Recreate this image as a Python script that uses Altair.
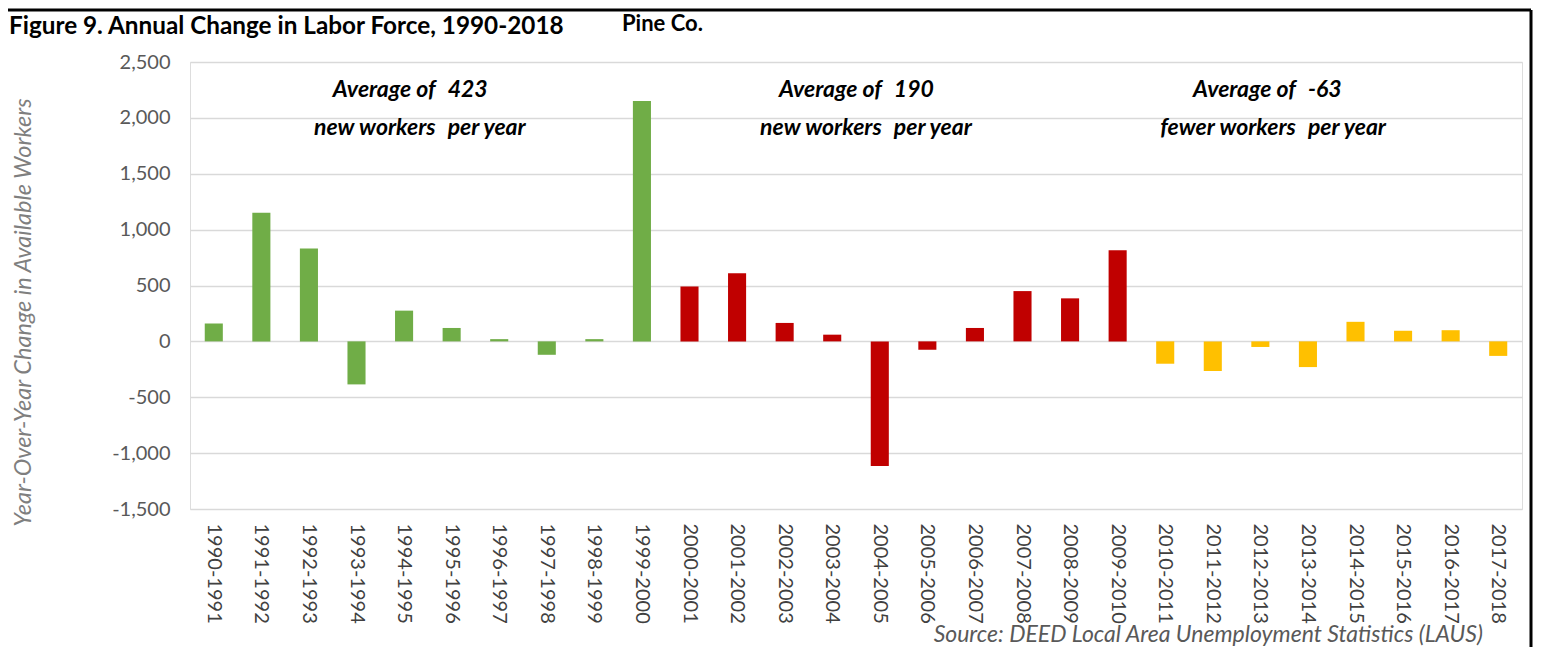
import altair as alt
import pandas as pd

cats = ["1990-1991", "1991-1992", "1992-1993", "1993-1994", "1994-1995", "1995-1996",
        "1996-1997", "1997-1998", "1998-1999", "1999-2000", "2000-2001", "2001-2002",
        "2002-2003", "2003-2004", "2004-2005", "2005-2006", "2006-2007", "2007-2008",
        "2008-2009", "2009-2010", "2010-2011", "2011-2012", "2012-2013", "2013-2014",
        "2014-2015", "2015-2016", "2016-2017", "2017-2018"]
values = [160, 1150, 830, -385, 275, 120, 20, -120, 20, 2150,
          490, 610, 165, 60, -1115, -75, 120, 450, 385, 815,
          -200, -265, -50, -230, 175, 95, 100, -130]
periods = ["1990-2000"] * 10 + ["2000-2010"] * 10 + ["2010-2018"] * 8
period_names = ["1990-2000", "2000-2010", "2010-2018"]
period_colors = ["#70AD47", "#C00000", "#FFC000"]
y_ticks = [-1500, -1000, -500, 0, 500, 1000, 1500, 2000, 2500]

ann_cats = ["1995-1996", "2004-2005", "2013-2014"]
ann_left = [["Average of", "new workers"], ["Average of", "new workers"], ["Average of", "fewer workers"]]
ann_right = [["423", "per year"], ["190", "per year"], ["-63", "per year"]]

title_text = "Figure 9. Annual Change in Labor Force, 1990-2018"
region_text = "Pine Co."
source_text = "Source: DEED Local Area Unemployment Statistics (LAUS)"
y_title = "Year-Over-Year Change in Available Workers"

W, H = 1332, 447
FONT = "Lato"

df = pd.DataFrame({"cat": cats, "value": values, "period": periods})
one = pd.DataFrame({"k": [0]})

xscale = alt.Scale(domain=cats, paddingInner=0.62, paddingOuter=0.31)

bars = alt.Chart(df).mark_bar().encode(
    x=alt.X("cat:N", sort=cats, scale=xscale,
            axis=alt.Axis(title=None, labelAngle=90, labelFontSize=20, labelColor="#404040",
                          labelFont=FONT, ticks=False, domain=False, labelPadding=14)),
    y=alt.Y("value:Q", scale=alt.Scale(domain=[-1500, 2500], nice=False, zero=False),
            axis=alt.Axis(values=y_ticks, format=",.0f",
                          labelExpr="replace(datum.label, '\u2212', '-')",
                          title=y_title, titleFont=FONT,
                          titleFontSize=23.5, titleFontStyle="italic", titleFontWeight="normal",
                          titleColor="#7F7F7F", titlePadding=76, titleY=250,
                          labelFont=FONT, labelFontSize=20, labelColor="#595959",
                          labelPadding=20, ticks=False, domain=False,
                          gridColor="#D9D9D9", gridWidth=1.5)),
    color=alt.Color("period:N", scale=alt.Scale(domain=period_names, range=period_colors), legend=None),
)

layers = [bars]
offsets = [-10, 8, -6]
for i in range(3):
    a = pd.DataFrame({"cat": [ann_cats[i]], "left": [ann_left[i]], "right": [ann_right[i]]})
    for col, align, d in (("left", "right", -6), ("right", "left", 6)):
        layers.append(
            alt.Chart(a).mark_text(align=align, baseline="middle", font=FONT, fontSize=23,
                                   fontStyle="italic", fontWeight="bold", color="#000000",
                                   lineHeight=38, dx=offsets[i] + d).encode(
                x=alt.X("cat:N", sort=cats, scale=xscale),
                y=alt.value(28),
                text=alt.Text(col),
            )
        )

layers.append(alt.Chart(one).mark_text(align="left", baseline="alphabetic", font=FONT, fontSize=24.3,
                                       fontWeight="bold", color="#000000").encode(
    x=alt.value(-181), y=alt.value(-28), text=alt.value(title_text)))
layers.append(alt.Chart(one).mark_text(align="left", baseline="alphabetic", font=FONT, fontSize=22,
                                       fontWeight="bold", color="#000000").encode(
    x=alt.value(432), y=alt.value(-31), text=alt.value(region_text)))
layers.append(alt.Chart(one).mark_text(align="right", baseline="alphabetic", font=FONT, fontSize=23,
                                       fontStyle="italic", color="#595959").encode(
    x=alt.value(1293), y=alt.value(580), text=alt.value(source_text)))
layers.append(alt.Chart(one).mark_rule(color="#000000", strokeWidth=3).encode(
    x=alt.value(-190), x2=alt.value(1341), y=alt.value(-52)))
layers.append(alt.Chart(one).mark_rule(color="#000000", strokeWidth=3).encode(
    x=alt.value(1341), y=alt.value(-52), y2=alt.value(600)))

chart = alt.layer(*layers).properties(
    width=W, height=H,
    autosize=alt.AutoSizeParams(type="none"),
    padding={"left": 182, "top": 54, "right": 11, "bottom": 138},
).configure_view(stroke=None).configure(background="#FFFFFF")

chart.save("out.html", embed_options={"renderer": "svg", "actions": False})
